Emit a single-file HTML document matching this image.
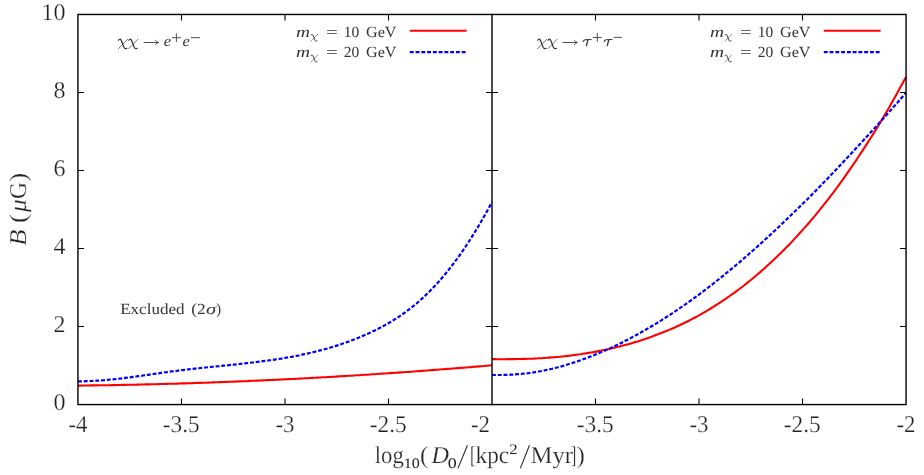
<!DOCTYPE html>
<html><head><meta charset="utf-8"><title>plot</title>
<style>
html,body{margin:0;padding:0;background:#fff;}
svg{display:block;font-family:"Liberation Serif",serif;will-change:transform;text-rendering:geometricPrecision;}
</style></head>
<body>
<svg width="924" height="475" viewBox="0 0 924 475">
<rect width="924" height="475" fill="#ffffff"/>
<!-- curves -->
<g fill="none" stroke-linejoin="round">
<path d="M78.0,385.6 L80.6,385.6 L83.2,385.5 L85.8,385.5 L88.4,385.5 L91.0,385.4 L93.6,385.4 L96.2,385.4 L98.8,385.3 L101.4,385.3 L104.0,385.3 L106.6,385.2 L109.2,385.2 L111.8,385.1 L114.5,385.1 L117.1,385.0 L119.7,385.0 L122.3,384.9 L124.9,384.9 L127.5,384.8 L130.1,384.8 L132.7,384.7 L135.3,384.7 L137.9,384.6 L140.5,384.5 L143.1,384.5 L145.7,384.4 L148.3,384.4 L150.9,384.3 L153.5,384.2 L156.1,384.2 L158.7,384.1 L161.3,384.0 L163.9,384.0 L166.5,383.9 L169.1,383.8 L171.7,383.7 L174.3,383.7 L176.9,383.6 L179.5,383.5 L182.2,383.4 L184.8,383.4 L187.4,383.3 L190.0,383.2 L192.6,383.1 L195.2,383.0 L197.8,382.9 L200.4,382.9 L203.0,382.8 L205.6,382.7 L208.2,382.6 L210.8,382.5 L213.4,382.4 L216.0,382.3 L218.6,382.2 L221.2,382.1 L223.8,382.0 L226.4,381.9 L229.0,381.8 L231.6,381.7 L234.2,381.6 L236.8,381.5 L239.4,381.4 L242.0,381.3 L244.6,381.2 L247.2,381.1 L249.8,380.9 L252.5,380.8 L255.1,380.7 L257.7,380.6 L260.3,380.5 L262.9,380.4 L265.5,380.3 L268.1,380.1 L270.7,380.0 L273.3,379.9 L275.9,379.8 L278.5,379.6 L281.1,379.5 L283.7,379.4 L286.3,379.3 L288.9,379.1 L291.5,379.0 L294.1,378.9 L296.7,378.7 L299.3,378.6 L301.9,378.5 L304.5,378.3 L307.1,378.2 L309.7,378.0 L312.3,377.9 L314.9,377.8 L317.5,377.6 L320.2,377.5 L322.8,377.3 L325.4,377.2 L328.0,377.0 L330.6,376.9 L333.2,376.7 L335.8,376.6 L338.4,376.4 L341.0,376.3 L343.6,376.1 L346.2,376.0 L348.8,375.8 L351.4,375.7 L354.0,375.5 L356.6,375.3 L359.2,375.2 L361.8,375.0 L364.4,374.8 L367.0,374.7 L369.6,374.5 L372.2,374.3 L374.8,374.2 L377.4,374.0 L380.0,373.8 L382.6,373.6 L385.2,373.5 L387.8,373.3 L390.5,373.1 L393.1,372.9 L395.7,372.8 L398.3,372.6 L400.9,372.4 L403.5,372.2 L406.1,372.0 L408.7,371.9 L411.3,371.7 L413.9,371.5 L416.5,371.3 L419.1,371.1 L421.7,370.9 L424.3,370.7 L426.9,370.5 L429.5,370.3 L432.1,370.1 L434.7,369.9 L437.3,369.7 L439.9,369.5 L442.5,369.3 L445.1,369.1 L447.7,368.9 L450.3,368.7 L452.9,368.5 L455.5,368.3 L458.2,368.1 L460.8,367.9 L463.4,367.7 L466.0,367.5 L468.6,367.3 L471.2,367.1 L473.8,366.8 L476.4,366.6 L479.0,366.4 L481.6,366.2 L484.2,366.0 L486.8,365.7 L489.4,365.5 L492.0,365.3" stroke="#ff0000" stroke-width="2.1"/>
<path d="M78.0,381.4 L80.6,381.4 L83.2,381.3 L85.8,381.2 L88.4,381.2 L91.0,381.0 L93.6,380.9 L96.2,380.7 L98.8,380.6 L101.4,380.4 L104.0,380.2 L106.6,379.9 L109.2,379.7 L111.8,379.4 L114.5,379.2 L117.1,378.9 L119.7,378.6 L122.3,378.3 L124.9,377.9 L127.5,377.6 L130.1,377.3 L132.7,376.9 L135.3,376.6 L137.9,376.2 L140.5,375.9 L143.1,375.5 L145.7,375.1 L148.3,374.8 L150.9,374.4 L153.5,374.0 L156.1,373.6 L158.7,373.3 L161.3,372.9 L163.9,372.5 L166.5,372.2 L169.1,371.8 L171.7,371.4 L174.3,371.1 L176.9,370.8 L179.5,370.4 L182.2,370.1 L184.8,369.8 L187.4,369.5 L190.0,369.2 L192.6,368.9 L195.2,368.6 L197.8,368.3 L200.4,368.0 L203.0,367.8 L205.6,367.5 L208.2,367.2 L210.8,367.0 L213.4,366.7 L216.0,366.4 L218.6,366.2 L221.2,365.9 L223.8,365.6 L226.4,365.4 L229.0,365.1 L231.6,364.8 L234.2,364.6 L236.8,364.3 L239.4,364.0 L242.0,363.7 L244.6,363.4 L247.2,363.1 L249.8,362.8 L252.5,362.5 L255.1,362.2 L257.7,361.9 L260.3,361.6 L262.9,361.2 L265.5,360.9 L268.1,360.5 L270.7,360.2 L273.3,359.8 L275.9,359.4 L278.5,359.0 L281.1,358.6 L283.7,358.1 L286.3,357.7 L288.9,357.2 L291.5,356.8 L294.1,356.3 L296.7,355.8 L299.3,355.3 L301.9,354.7 L304.5,354.2 L307.1,353.6 L309.7,353.0 L312.3,352.4 L314.9,351.8 L317.5,351.1 L320.2,350.4 L322.8,349.7 L325.4,349.0 L328.0,348.3 L330.6,347.5 L333.2,346.7 L335.8,345.9 L338.4,345.1 L341.0,344.2 L343.6,343.3 L346.2,342.4 L348.8,341.5 L351.4,340.5 L354.0,339.5 L356.6,338.5 L359.2,337.4 L361.8,336.3 L364.4,335.2 L367.0,334.1 L369.6,332.9 L372.2,331.7 L374.8,330.4 L377.4,329.1 L380.0,327.8 L382.6,326.4 L385.2,325.0 L387.8,323.5 L390.5,322.0 L393.1,320.4 L395.7,318.8 L398.3,317.1 L400.9,315.4 L403.5,313.5 L406.1,311.7 L408.7,309.7 L411.3,307.7 L413.9,305.6 L416.5,303.5 L419.1,301.2 L421.7,298.9 L424.3,296.5 L426.9,294.0 L429.5,291.5 L432.1,288.8 L434.7,286.1 L437.3,283.3 L439.9,280.4 L442.5,277.3 L445.1,274.2 L447.7,271.0 L450.3,267.7 L452.9,264.3 L455.5,260.8 L458.2,257.2 L460.8,253.6 L463.4,249.8 L466.0,245.9 L468.6,242.0 L471.2,237.9 L473.8,233.7 L476.4,229.5 L479.0,225.2 L481.6,220.7 L484.2,216.2 L486.8,211.6 L489.4,206.9 L492.0,202.1" stroke="#0000ff" stroke-width="2.2" stroke-dasharray="3.9 1.87"/>
<path d="M492.0,359.1 L494.6,359.1 L497.2,359.2 L499.8,359.2 L502.4,359.2 L505.0,359.2 L507.6,359.1 L510.2,359.1 L512.8,359.1 L515.4,359.1 L518.0,359.0 L520.6,359.0 L523.2,358.9 L525.8,358.9 L528.5,358.8 L531.1,358.7 L533.7,358.6 L536.3,358.5 L538.9,358.3 L541.5,358.2 L544.1,358.0 L546.7,357.8 L549.3,357.6 L551.9,357.4 L554.5,357.2 L557.1,357.0 L559.7,356.8 L562.3,356.5 L564.9,356.2 L567.5,355.9 L570.1,355.6 L572.7,355.2 L575.3,354.9 L577.9,354.5 L580.5,354.2 L583.1,353.8 L585.7,353.4 L588.3,352.9 L590.9,352.5 L593.5,352.1 L596.2,351.6 L598.8,351.1 L601.4,350.6 L604.0,350.0 L606.6,349.5 L609.2,348.9 L611.8,348.3 L614.4,347.7 L617.0,347.1 L619.6,346.5 L622.2,345.8 L624.8,345.1 L627.4,344.4 L630.0,343.7 L632.6,342.9 L635.2,342.1 L637.8,341.4 L640.4,340.5 L643.0,339.7 L645.6,338.8 L648.2,337.9 L650.8,337.0 L653.4,336.1 L656.0,335.1 L658.6,334.1 L661.2,333.1 L663.8,332.1 L666.5,331.0 L669.1,329.9 L671.7,328.8 L674.3,327.7 L676.9,326.5 L679.5,325.3 L682.1,324.0 L684.7,322.8 L687.3,321.5 L689.9,320.2 L692.5,318.8 L695.1,317.5 L697.7,316.1 L700.3,314.6 L702.9,313.1 L705.5,311.6 L708.1,310.1 L710.7,308.5 L713.3,306.9 L715.9,305.2 L718.5,303.6 L721.1,301.9 L723.7,300.1 L726.3,298.4 L728.9,296.5 L731.5,294.7 L734.2,292.8 L736.8,290.9 L739.4,289.0 L742.0,287.0 L744.6,285.0 L747.2,282.9 L749.8,280.8 L752.4,278.7 L755.0,276.5 L757.6,274.3 L760.2,272.1 L762.8,269.8 L765.4,267.5 L768.0,265.1 L770.6,262.7 L773.2,260.3 L775.8,257.8 L778.4,255.3 L781.0,252.8 L783.6,250.2 L786.2,247.6 L788.8,244.9 L791.4,242.2 L794.0,239.4 L796.6,236.6 L799.2,233.8 L801.8,230.9 L804.5,227.9 L807.1,225.0 L809.7,222.0 L812.3,218.9 L814.9,215.8 L817.5,212.6 L820.1,209.4 L822.7,206.2 L825.3,202.9 L827.9,199.6 L830.5,196.2 L833.1,192.8 L835.7,189.3 L838.3,185.8 L840.9,182.2 L843.5,178.6 L846.1,174.9 L848.7,171.2 L851.3,167.4 L853.9,163.6 L856.5,159.8 L859.1,155.8 L861.7,151.9 L864.3,147.9 L866.9,143.9 L869.5,139.8 L872.2,135.6 L874.8,131.4 L877.4,127.2 L880.0,122.9 L882.6,118.5 L885.2,114.1 L887.8,109.7 L890.4,105.2 L893.0,100.6 L895.6,96.0 L898.2,91.3 L900.8,86.6 L903.4,81.8 L906.0,76.9" stroke="#ff0000" stroke-width="2.1"/>
<path d="M492.0,374.9 L494.6,375.0 L497.2,375.0 L499.8,375.0 L502.4,375.0 L505.0,374.9 L507.6,374.8 L510.2,374.7 L512.8,374.6 L515.4,374.4 L518.0,374.2 L520.6,374.0 L523.2,373.7 L525.8,373.4 L528.5,373.1 L531.1,372.7 L533.7,372.4 L536.3,371.9 L538.9,371.5 L541.5,371.0 L544.1,370.5 L546.7,369.9 L549.3,369.4 L551.9,368.8 L554.5,368.1 L557.1,367.5 L559.7,366.8 L562.3,366.1 L564.9,365.3 L567.5,364.5 L570.1,363.7 L572.7,362.9 L575.3,362.1 L577.9,361.2 L580.5,360.3 L583.1,359.3 L585.7,358.4 L588.3,357.4 L590.9,356.4 L593.5,355.4 L596.2,354.3 L598.8,353.2 L601.4,352.1 L604.0,351.0 L606.6,349.8 L609.2,348.7 L611.8,347.5 L614.4,346.2 L617.0,345.0 L619.6,343.7 L622.2,342.4 L624.8,341.1 L627.4,339.8 L630.0,338.4 L632.6,337.0 L635.2,335.6 L637.8,334.2 L640.4,332.7 L643.0,331.3 L645.6,329.8 L648.2,328.3 L650.8,326.7 L653.4,325.2 L656.0,323.6 L658.6,322.0 L661.2,320.4 L663.8,318.7 L666.5,317.0 L669.1,315.4 L671.7,313.7 L674.3,311.9 L676.9,310.2 L679.5,308.4 L682.1,306.6 L684.7,304.8 L687.3,303.0 L689.9,301.1 L692.5,299.3 L695.1,297.4 L697.7,295.5 L700.3,293.6 L702.9,291.6 L705.5,289.6 L708.1,287.6 L710.7,285.6 L713.3,283.6 L715.9,281.5 L718.5,279.5 L721.1,277.4 L723.7,275.3 L726.3,273.1 L728.9,271.0 L731.5,268.9 L734.2,266.7 L736.8,264.5 L739.4,262.3 L742.0,260.1 L744.6,257.8 L747.2,255.6 L749.8,253.3 L752.4,251.0 L755.0,248.7 L757.6,246.4 L760.2,244.0 L762.8,241.7 L765.4,239.3 L768.0,236.9 L770.6,234.5 L773.2,232.1 L775.8,229.7 L778.4,227.2 L781.0,224.8 L783.6,222.3 L786.2,219.8 L788.8,217.3 L791.4,214.8 L794.0,212.3 L796.6,209.8 L799.2,207.2 L801.8,204.6 L804.5,202.0 L807.1,199.5 L809.7,196.8 L812.3,194.2 L814.9,191.6 L817.5,188.9 L820.1,186.3 L822.7,183.6 L825.3,180.9 L827.9,178.2 L830.5,175.5 L833.1,172.8 L835.7,170.1 L838.3,167.3 L840.9,164.6 L843.5,161.8 L846.1,159.0 L848.7,156.2 L851.3,153.4 L853.9,150.6 L856.5,147.8 L859.1,145.0 L861.7,142.2 L864.3,139.3 L866.9,136.5 L869.5,133.7 L872.2,130.8 L874.8,127.9 L877.4,125.1 L880.0,122.2 L882.6,119.3 L885.2,116.4 L887.8,113.5 L890.4,110.6 L893.0,107.6 L895.6,104.7 L898.2,101.8 L900.8,98.8 L903.4,95.8 L906.0,92.9" stroke="#0000ff" stroke-width="2.2" stroke-dasharray="3.9 1.87"/>
</g>
<!-- frame -->
<g fill="none" stroke="#000" stroke-width="1.4" stroke-linecap="square">
<rect x="77.95" y="14.47" width="828.1" height="390.1"/>
<path d="M492,14.5 V404.5"/>
</g>
<path d="M78,326.5 h6 M486,326.5 h12 M906,326.5 h-6 M78,248.5 h6 M486,248.5 h12 M906,248.5 h-6 M78,170.5 h6 M486,170.5 h12 M906,170.5 h-6 M78,92.5 h6 M486,92.5 h12 M906,92.5 h-6 M181.5,404.5 v-6 M181.5,14.5 v6 M595.5,404.5 v-6 M595.5,14.5 v6 M285.0,404.5 v-6 M285.0,14.5 v6 M699.0,404.5 v-6 M699.0,14.5 v6 M388.5,404.5 v-6 M388.5,14.5 v6 M802.5,404.5 v-6 M802.5,14.5 v6" stroke="#000" stroke-width="1.1" fill="none"/>
<!-- tick labels -->
<g fill="#222" stroke="#fff" stroke-width="0.25"><text x="65.4" y="410.1" font-size="24" text-anchor="end">0</text><text x="65.4" y="332.1" font-size="24" text-anchor="end">2</text><text x="65.4" y="254.1" font-size="24" text-anchor="end">4</text><text x="65.4" y="176.1" font-size="24" text-anchor="end">6</text><text x="65.4" y="98.1" font-size="24" text-anchor="end">8</text><text x="65.4" y="20.1" font-size="24" text-anchor="end">10</text><text x="68.5" y="432" font-size="24" textLength="19" lengthAdjust="spacingAndGlyphs">-4</text><text x="162.7" y="432" font-size="24" textLength="37" lengthAdjust="spacingAndGlyphs">-3.5</text><text x="275.5" y="432" font-size="24" textLength="19" lengthAdjust="spacingAndGlyphs">-3</text><text x="369.8" y="432" font-size="24" textLength="37" lengthAdjust="spacingAndGlyphs">-2.5</text><text x="471.0" y="432" font-size="24" textLength="19" lengthAdjust="spacingAndGlyphs">-2</text><text x="576.7" y="432" font-size="24" textLength="37" lengthAdjust="spacingAndGlyphs">-3.5</text><text x="689.5" y="432" font-size="24" textLength="19" lengthAdjust="spacingAndGlyphs">-3</text><text x="783.8" y="432" font-size="24" textLength="37" lengthAdjust="spacingAndGlyphs">-2.5</text><text x="896.5" y="432" font-size="24" textLength="19" lengthAdjust="spacingAndGlyphs">-2</text></g>
<!-- axis labels -->
<g fill="#222" stroke="#fff" stroke-width="0.25"><g transform="translate(25.8,245.7) rotate(-90)"><text x="-0.3" y="0" font-size="24.2" textLength="16.6" lengthAdjust="spacingAndGlyphs" font-style="italic">B</text><text x="22.6" y="0" font-size="24.2" textLength="9" lengthAdjust="spacingAndGlyphs">(</text><text x="33.6" y="0" font-size="24.2" textLength="12.8" lengthAdjust="spacingAndGlyphs" font-style="italic">μ</text><text x="46.6" y="0" font-size="24.2" textLength="17" lengthAdjust="spacingAndGlyphs">G</text><text x="63.9" y="0" font-size="24.2" textLength="9" lengthAdjust="spacingAndGlyphs">)</text></g><text x="374.8" y="462.6" font-size="24.2" textLength="29" lengthAdjust="spacingAndGlyphs">log</text><text x="403.8" y="467.6" font-size="14.5" textLength="16" lengthAdjust="spacingAndGlyphs" stroke="none">10</text><text x="420" y="462.6" font-size="24.2" textLength="8.3" lengthAdjust="spacingAndGlyphs">(</text><text x="431.4" y="462.6" font-size="24.2" textLength="17.5" lengthAdjust="spacingAndGlyphs" font-style="italic">D</text><text x="447.8" y="467.6" font-size="14.5" textLength="9" lengthAdjust="spacingAndGlyphs" stroke="none">0</text><text x="470" y="462.6" font-size="24.2" textLength="5.5" lengthAdjust="spacingAndGlyphs">[</text><text x="475.6" y="462.6" font-size="24.2" textLength="33.6" lengthAdjust="spacingAndGlyphs">kpc</text><text x="509.2" y="453.5" font-size="14.5" textLength="8.4" lengthAdjust="spacingAndGlyphs" stroke="none">2</text><text x="530.4" y="462.6" font-size="24.2" textLength="42.6" lengthAdjust="spacingAndGlyphs">Myr</text><text x="571.2" y="462.6" font-size="24.2" textLength="5" lengthAdjust="spacingAndGlyphs">]</text><text x="576.6" y="462.6" font-size="24.2" textLength="8.3" lengthAdjust="spacingAndGlyphs">)</text><path d="M457.9,468.4 L467.5,445.2 M520.3,468.4 L529.5,445.2" stroke="#222" stroke-width="1.05" fill="none"/></g>
<!-- annotations -->
<g fill="#333"><g transform="translate(118.4,39.0) scale(1.0)" fill="none" stroke="#333" stroke-linecap="round"><path d="M0.1,1.2 C0.6,0.1 1.9,-0.2 2.7,1.1 L5.6,8.5 C6.2,9.7 7.2,9.7 8.4,9.3" stroke-width="1.25"/><path d="M9.3,0.2 L0,9.7" stroke-width="0.7"/></g><g transform="translate(128.7,39.0) scale(1.0)" fill="none" stroke="#333" stroke-linecap="round"><path d="M0.1,1.2 C0.6,0.1 1.9,-0.2 2.7,1.1 L5.6,8.5 C6.2,9.7 7.2,9.7 8.4,9.3" stroke-width="1.25"/><path d="M9.3,0.2 L0,9.7" stroke-width="0.7"/></g><path d="M143.8,42.5 H158.4 M155.20000000000002,40.1 Q156.8,42.0 158.4,42.5 Q156.8,43.0 155.20000000000002,44.9" stroke="#333" stroke-width="0.85" fill="none"/><text x="163.7" y="46.2" font-size="15.5" textLength="7.3" lengthAdjust="spacingAndGlyphs" font-style="italic">e</text><path d="M172.0,37.7 H180.8 M176.4,33.300000000000004 V42.1" stroke="#333" stroke-width="0.85" fill="none"/><text x="182.4" y="46.2" font-size="15.5" textLength="7.3" lengthAdjust="spacingAndGlyphs" font-style="italic">e</text><path d="M191,37.7 H200" stroke="#333" stroke-width="0.85" fill="none"/><g transform="translate(537.6,39.0) scale(1.0)" fill="none" stroke="#333" stroke-linecap="round"><path d="M0.1,1.2 C0.6,0.1 1.9,-0.2 2.7,1.1 L5.6,8.5 C6.2,9.7 7.2,9.7 8.4,9.3" stroke-width="1.25"/><path d="M9.3,0.2 L0,9.7" stroke-width="0.7"/></g><g transform="translate(547.9,39.0) scale(1.0)" fill="none" stroke="#333" stroke-linecap="round"><path d="M0.1,1.2 C0.6,0.1 1.9,-0.2 2.7,1.1 L5.6,8.5 C6.2,9.7 7.2,9.7 8.4,9.3" stroke-width="1.25"/><path d="M9.3,0.2 L0,9.7" stroke-width="0.7"/></g><path d="M562.5,42.5 H577.3 M574.0999999999999,40.1 Q575.6999999999999,42.0 577.3,42.5 Q575.6999999999999,43.0 574.0999999999999,44.9" stroke="#333" stroke-width="0.85" fill="none"/><g transform="translate(583.1,39.4)" fill="none" stroke="#333" stroke-linecap="round"><path d="M0,2.2 C0.5,0.9 1.2,0.5 2.3,0.45 L8.0,0.1" stroke-width="1.05"/><path d="M4.8,0.5 L3.3,6.3" stroke-width="1.3"/></g><path d="M592.9,37.5 H601.6999999999999 M597.3,33.1 V41.9" stroke="#333" stroke-width="0.85" fill="none"/><g transform="translate(604.0,39.4)" fill="none" stroke="#333" stroke-linecap="round"><path d="M0,2.2 C0.5,0.9 1.2,0.5 2.3,0.45 L8.0,0.1" stroke-width="1.05"/><path d="M4.8,0.5 L3.3,6.3" stroke-width="1.3"/></g><path d="M613.6,37.4 H621.9" stroke="#333" stroke-width="0.85" fill="none"/><text x="120.2" y="314.0" font-size="15.5" textLength="64.3" lengthAdjust="spacingAndGlyphs">Excluded</text><text x="191.3" y="314.0" font-size="15.5" textLength="14.4" lengthAdjust="spacingAndGlyphs">(2</text><text x="206" y="314.0" font-size="15.5" textLength="10.2" lengthAdjust="spacingAndGlyphs" font-style="italic">σ</text><text x="216.3" y="314.0" font-size="15.5" textLength="4.8" lengthAdjust="spacingAndGlyphs">)</text><text x="296.0" y="36.5" font-size="15.5" textLength="14.0" lengthAdjust="spacingAndGlyphs" font-style="italic">m</text><g transform="translate(310.9,34.1) scale(0.74)" fill="none" stroke="#333" stroke-linecap="round"><path d="M0.1,1.2 C0.6,0.1 1.9,-0.2 2.7,1.1 L5.6,8.5 C6.2,9.7 7.2,9.7 8.4,9.3" stroke-width="1.25"/><path d="M9.3,0.2 L0,9.7" stroke-width="0.7"/></g><text x="326" y="36.5" font-size="15.5" textLength="11.8" lengthAdjust="spacingAndGlyphs">=</text><text x="343.8" y="36.5" font-size="15.5" textLength="15.5" lengthAdjust="spacingAndGlyphs">10</text><text x="366" y="36.5" font-size="15.5" textLength="30.5" lengthAdjust="spacingAndGlyphs">GeV</text><text x="296.0" y="57.2" font-size="15.5" textLength="14.0" lengthAdjust="spacingAndGlyphs" font-style="italic">m</text><g transform="translate(310.9,54.800000000000004) scale(0.74)" fill="none" stroke="#333" stroke-linecap="round"><path d="M0.1,1.2 C0.6,0.1 1.9,-0.2 2.7,1.1 L5.6,8.5 C6.2,9.7 7.2,9.7 8.4,9.3" stroke-width="1.25"/><path d="M9.3,0.2 L0,9.7" stroke-width="0.7"/></g><text x="326" y="57.2" font-size="15.5" textLength="11.8" lengthAdjust="spacingAndGlyphs">=</text><text x="343.8" y="57.2" font-size="15.5" textLength="15.5" lengthAdjust="spacingAndGlyphs">20</text><text x="366" y="57.2" font-size="15.5" textLength="30.5" lengthAdjust="spacingAndGlyphs">GeV</text><path d="M409.8,30.8 H466.6" stroke="#ff0000" stroke-width="2.1" fill="none"/><path d="M409.8,52.2 H466.2" stroke="#0000ff" stroke-width="2.2" stroke-dasharray="3.9 1.87" fill="none"/><text x="710.0" y="36.5" font-size="15.5" textLength="14.0" lengthAdjust="spacingAndGlyphs" font-style="italic">m</text><g transform="translate(724.9,34.1) scale(0.74)" fill="none" stroke="#333" stroke-linecap="round"><path d="M0.1,1.2 C0.6,0.1 1.9,-0.2 2.7,1.1 L5.6,8.5 C6.2,9.7 7.2,9.7 8.4,9.3" stroke-width="1.25"/><path d="M9.3,0.2 L0,9.7" stroke-width="0.7"/></g><text x="740" y="36.5" font-size="15.5" textLength="11.8" lengthAdjust="spacingAndGlyphs">=</text><text x="757.8" y="36.5" font-size="15.5" textLength="15.5" lengthAdjust="spacingAndGlyphs">10</text><text x="780" y="36.5" font-size="15.5" textLength="30.5" lengthAdjust="spacingAndGlyphs">GeV</text><text x="710.0" y="57.2" font-size="15.5" textLength="14.0" lengthAdjust="spacingAndGlyphs" font-style="italic">m</text><g transform="translate(724.9,54.800000000000004) scale(0.74)" fill="none" stroke="#333" stroke-linecap="round"><path d="M0.1,1.2 C0.6,0.1 1.9,-0.2 2.7,1.1 L5.6,8.5 C6.2,9.7 7.2,9.7 8.4,9.3" stroke-width="1.25"/><path d="M9.3,0.2 L0,9.7" stroke-width="0.7"/></g><text x="740" y="57.2" font-size="15.5" textLength="11.8" lengthAdjust="spacingAndGlyphs">=</text><text x="757.8" y="57.2" font-size="15.5" textLength="15.5" lengthAdjust="spacingAndGlyphs">20</text><text x="780" y="57.2" font-size="15.5" textLength="30.5" lengthAdjust="spacingAndGlyphs">GeV</text><path d="M823.8,30.8 H880.6" stroke="#ff0000" stroke-width="2.1" fill="none"/><path d="M823.8,52.2 H880.2" stroke="#0000ff" stroke-width="2.2" stroke-dasharray="3.9 1.87" fill="none"/></g>
</svg>
</body></html>
